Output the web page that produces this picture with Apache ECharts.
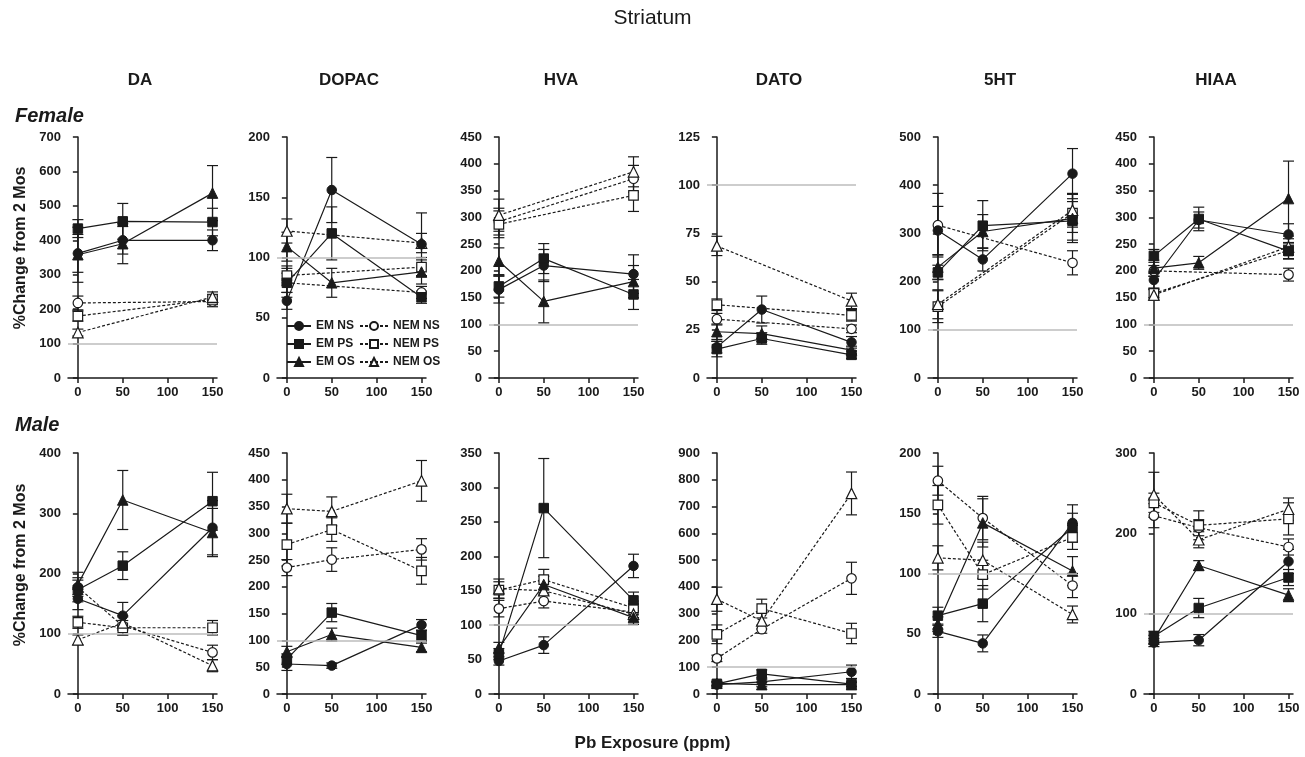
<!DOCTYPE html>
<html>
<head>
<meta charset="utf-8">
<script src="https://cdn.jsdelivr.net/npm/echarts@6/dist/echarts.min.js"></script>
<style>
html, body { margin: 0; padding: 0; background: #fff; }
#chart { width: 1305px; height: 757px; }
</style>
</head>
<body>
<div id="chart"></div>
<script>
// x values (Pb exposure, ppm) and tick labels
var doses = [0, 50, 150];
var xTicks = [0, 50, 100, 150];
var seriesNames = ['EM NS', 'EM PS', 'EM OS', 'NEM NS', 'NEM PS', 'NEM OS'];
var analytes = ['DA', 'DOPAC', 'HVA', 'DATO', '5HT', 'HIAA'];
var femaleMax = [700, 200, 450, 125, 500, 450];
var femaleStep = [100, 50, 50, 25, 100, 50];
var maleMax = [400, 450, 350, 900, 200, 300];
var maleStep = [100, 50, 50, 100, 50, 100];

// rows: EM NS, EM PS, EM OS, NEM NS, NEM PS, NEM OS ; columns: 0, 50, 150 ppm
var femaleDA = [[362, 400, 400], [434, 455, 453], [358, 390, 537], [218, null, 222], [180, null, 228], [132, null, 235]];
var femaleDAErr = [[55, 40, 30], [26, 52, 40], [80, 58, 80], [20, 0, 15], [15, 0, 15], [10, 0, 15]];
var femaleDOPAC = [[64, 156, 111], [79, 120, 67], [109, 79, 88], [79, null, 71], [85, null, 92], [122, null, 112]];
var femaleDOPACErr = [[7, 27, 26], [12, 22, 5], [12, 12, 10], [8, 0, 5], [8, 0, 8], [10, 0, 8]];
var femaleHVA = [[165, 210, 194], [171, 223, 156], [218, 143, 180], [292, null, 372], [287, null, 341], [304, null, 385]];
var femaleHVAErr = [[25, 30, 36], [20, 28, 28], [25, 40, 30], [25, 0, 25], [25, 0, 30], [30, 0, 28]];
var femaleDATO = [[16, 35.5, 18.5], [15, 20.5, 12], [24, 23, 14.5], [30.5, null, 25.5], [38, null, 32.5], [68.5, null, 40]];
var femaleDATOErr = [[3, 7, 3], [4, 3, 2], [4, 4, 2], [3, 0, 2], [3, 0, 3], [5, 0, 4]];
var female5HT = [[306, 246, 424], [219, 316, 326], [230, 304, 331], [317, null, 239], [148, null, 342], [153, null, 348]];
var female5HTErr = [[50, 24, 52], [15, 52, 40], [25, 35, 50], [66, 0, 25], [33, 0, 40], [30, 0, 35]];
var femaleHIAA = [[183, 295, 268], [228, 297, 237], [205, 215, 335], [200, null, 193], [158, null, 238], [155, null, 245]];
var femaleHIAAErr = [[15, 15, 20], [12, 22, 15], [15, 12, 70], [10, 0, 12], [8, 0, 15], [10, 0, 15]];

var maleDA = [[158, 130, 276], [173, 213, 320], [182, 322, 268], [177, 113, 69], [119, 110, 110], [90, 118, 47]];
var maleDAErr = [[18, 22, 45], [20, 23, 48], [20, 49, 40], [12, 15, 12], [10, 12, 12], [8, 12, 10]];
var maleDOPAC = [[56, 53, 129], [65, 152, 109], [79, 111, 87], [236, 251, 270], [279, 307, 230], [346, 341, 398]];
var maleDOPACErr = [[12, 5, 10], [10, 17, 10], [10, 12, 8], [15, 22, 20], [40, 22, 25], [27, 27, 38]];
var maleHVA = [[48, 71, 186], [58, 270, 136], [67, 159, 111], [124, 135, 119], [151, 166, 125], [153, 150, 116]];
var maleHVAErr = [[6, 12, 17], [8, 72, 12], [8, 12, 10], [12, 10, 8], [12, 15, 10], [14, 15, 10]];
var maleDATO = [[35, 45, 83], [38, 75, 37], [40, 35, 35], [133, 242, 432], [223, 319, 226], [354, 273, 749]];
var maleDATOErr = [[8, 10, 25], [8, 15, 8], [8, 8, 8], [12, 15, 60], [35, 35, 38], [45, 30, 80]];
var male5HT = [[52, 42, 142], [65, 75, 138], [58, 142, 102], [177, 146, 90], [157, 99, 130], [113, 111, 66]];
var male5HTErr = [[5, 7, 15], [7, 15, 12], [6, 20, 12], [12, 18, 10], [16, 12, 10], [10, 15, 7]];
var maleHIAA = [[64, 67, 165], [72, 107, 145], [68, 160, 123], [222, 207, 183], [238, 210, 218], [248, 192, 230]];
var maleHIAAErr = [[5, 7, 15], [6, 12, 10], [5, 6, 8], [15, 10, 10], [12, 18, 20], [28, 10, 14]];

var femaleMeans = [femaleDA, femaleDOPAC, femaleHVA, femaleDATO, female5HT, femaleHIAA];
var femaleErrs = [femaleDAErr, femaleDOPACErr, femaleHVAErr, femaleDATOErr, female5HTErr, femaleHIAAErr];
var maleMeans = [maleDA, maleDOPAC, maleHVA, maleDATO, male5HT, maleHIAA];
var maleErrs = [maleDAErr, maleDOPACErr, maleHVAErr, maleDATOErr, male5HTErr, maleHIAAErr];

// layout
var panelLeft = [68, 277, 489, 707, 928, 1144];
var rowTop = [137, 453];
var panelW = 149, panelH = 241;
var font = 'Arial, "Liberation Sans", sans-serif';
var ink = '#1a1a1a';

var chart = echarts.init(document.getElementById('chart'));

var symbols = ['circle', 'rect', 'triangle', 'circle', 'rect', 'triangle'];
var symbolSizes = [9.5, 9.5, 10.5, 9.5, 9.5, 10.5];

// vertical error bar with caps
function renderErr(params, api) {
	var x = api.value(0), y = api.value(1), e = api.value(2);
	if (!e) return null;
	var top = api.coord([x, y + e]);
	var bot = api.coord([x, y - e]);
	var w = 5.5;
	var st = { stroke: ink, lineWidth: 1.2 };
	return {
		type: 'group',
		children: [
			{ type: 'line', shape: { x1: top[0], y1: top[1], x2: bot[0], y2: bot[1] }, style: st },
			{ type: 'line', shape: { x1: top[0] - w, y1: top[1], x2: top[0] + w, y2: top[1] }, style: st },
			{ type: 'line', shape: { x1: bot[0] - w, y1: bot[1], x2: bot[0] + w, y2: bot[1] }, style: st }
		]
	};
}

var grids = [], xAxes = [], yAxes = [], series = [];

for (var r = 0; r < 2; r++) {
	var maxes = r === 0 ? femaleMax : maleMax;
	var steps = r === 0 ? femaleStep : maleStep;
	var means = r === 0 ? femaleMeans : maleMeans;
	var errs = r === 0 ? femaleErrs : maleErrs;
	for (var c = 0; c < 6; c++) {
		var idx = grids.length;
		grids.push({ left: panelLeft[c], top: rowTop[r], width: panelW, height: panelH });
		xAxes.push({
			gridIndex: idx, type: 'value', min: -11, max: 155,
			axisLine: { lineStyle: { color: ink, width: 1.5 } },
			axisTick: { show: true, length: 5, customValues: xTicks, lineStyle: { color: ink, width: 1.5 } },
			axisLabel: { customValues: xTicks, color: ink, fontFamily: font, fontWeight: 'bold', fontSize: 13, margin: 8 },
			splitLine: { show: false }
		});
		yAxes.push({
			gridIndex: idx, type: 'value', min: 0, max: maxes[c], interval: steps[c],
			axisLine: { show: true, lineStyle: { color: ink, width: 1.5 } },
			axisTick: { show: true, length: 5, lineStyle: { color: ink, width: 1.5 } },
			axisLabel: { color: ink, fontFamily: font, fontWeight: 'bold', fontSize: 13, margin: 7 },
			splitLine: { show: false }
		});
		// reference line at 100 %
		series.push({
			type: 'line', xAxisIndex: idx, yAxisIndex: idx, data: [], silent: true,
			markLine: {
				silent: true, symbol: 'none', label: { show: false },
				lineStyle: { color: '#bdbdbd', width: 1.5, type: 'solid' },
				data: [{ yAxis: 100 }], animation: false
			}
		});
		// open (NEM) first, filled (EM) on top
		var order = [3, 4, 5, 0, 1, 2];
		for (var o = 0; o < order.length; o++) {
			var k = order[o];
			var pts = [], ebars = [];
			for (var j = 0; j < doses.length; j++) {
				var v = means[c][k][j];
				if (v === null) continue;
				pts.push([doses[j], v]);
				ebars.push([doses[j], v, errs[c][k][j]]);
			}
			series.push({
				type: 'custom', name: 'err', xAxisIndex: idx, yAxisIndex: idx,
				renderItem: renderErr, data: ebars, z: 2, silent: true
			});
			var open = k >= 3;
			series.push({
				type: 'line', name: seriesNames[k], xAxisIndex: idx, yAxisIndex: idx,
				data: pts, z: open ? 3 : 4,
				symbol: symbols[k], symbolSize: symbolSizes[k], showAllSymbol: true,
				lineStyle: { color: ink, width: 1.2, type: open ? [3, 2] : 'solid' },
				itemStyle: open ? { color: '#fff', borderColor: ink, borderWidth: 1.2 } : { color: ink, borderColor: ink, borderWidth: 1 },
				emphasis: { disabled: true }
			});
		}
	}
}

var texts = [
	{ type: 'text', left: 'center', top: 8, style: { text: 'Striatum', font: '21px ' + font, fill: ink } },
	{ type: 'text', x: 15, y: 116, style: { text: 'Female', font: 'italic bold 20px ' + font, fill: ink, verticalAlign: 'middle' } },
	{ type: 'text', x: 15, y: 425, style: { text: 'Male', font: 'italic bold 20px ' + font, fill: ink, verticalAlign: 'middle' } },
	{ type: 'text', left: 'center', top: 735, style: { text: 'Pb Exposure (ppm)', font: 'bold 17px ' + font, fill: ink } },
	{ type: 'text', x: 21, y: 248, rotation: Math.PI / 2, style: { text: '%Change from 2 Mos', font: 'bold 16px ' + font, fill: ink, align: 'center', verticalAlign: 'middle' } },
	{ type: 'text', x: 21, y: 565, rotation: Math.PI / 2, style: { text: '%Change from 2 Mos', font: 'bold 16px ' + font, fill: ink, align: 'center', verticalAlign: 'middle' } }
];
for (var a = 0; a < analytes.length; a++) {
	texts.push({ type: 'text', x: panelLeft[a] + 72, y: 80, style: { text: analytes[a], font: 'bold 17px ' + font, fill: ink, align: 'center', verticalAlign: 'middle' } });
}

var legendText = { color: ink, fontFamily: font, fontWeight: 'bold', fontSize: 12 };

chart.setOption({
	animation: false,
	backgroundColor: '#fff',
	grid: grids,
	xAxis: xAxes,
	yAxis: yAxes,
	series: series,
	graphic: texts,
	legend: [{
		data: ['EM NS', 'EM PS', 'EM OS'], orient: 'vertical', left: 281, top: 315,
		itemWidth: 24, itemHeight: 10, itemGap: 6, textStyle: legendText, selectedMode: false
	}, {
		data: ['NEM NS', 'NEM PS', 'NEM OS'], orient: 'vertical', left: 354, top: 315,
		itemWidth: 28, itemHeight: 10, itemGap: 6, textStyle: legendText, selectedMode: false
	}]
});
</script>
</body>
</html>
